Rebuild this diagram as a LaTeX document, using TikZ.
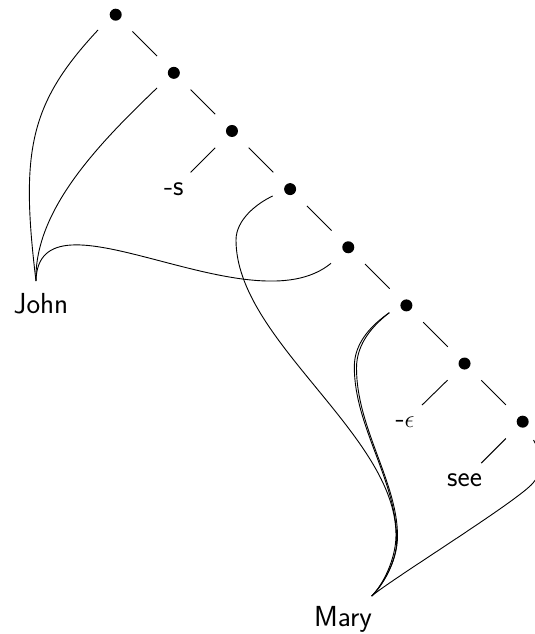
\documentclass[tikz,border=0pt]{standalone}
\usepackage{fontspec}
\begin{document}
\begin{tikzpicture}[x=1pt,y=-1pt,line width=0.9pt,
  dot/.style={circle,fill=black,inner sep=0pt,minimum size=12pt},
  lbl/.style={font=\sffamily\fontsize{29}{33}\selectfont,inner sep=0pt},
  branch/.style={shorten <=23.7pt,shorten >=23.7pt},
  link/.style={line width=0.9pt}]
\useasboundingbox (0,0) rectangle (535,634);
\clip (0,0) rectangle (535,634);
% tree nodes
\node[dot] (d1) at (115.7,14.7) {};
\node[dot] (d2) at (173.84,72.84) {};
\node[dot] (d3) at (231.98,130.98) {};
\node[dot] (d4) at (290.12,189.12) {};
\node[dot] (d5) at (348.26,247.26) {};
\node[dot] (d6) at (406.4,305.4) {};
\node[dot] (d7) at (464.54,363.54) {};
\node[dot] (d8) at (522.68,421.68) {};
\node[lbl] (s) at (173.84,189.12) {-s};
\node[lbl] (eps) at (405,421.68) {-$\epsilon$};
\node[lbl] (see) at (464.54,479.82) {see};
\node[lbl,anchor=base] (john) at (41,313) {John};
\node[lbl,anchor=base] (mary) at (343,626) {Mary};
% tree branches
\draw[branch] (d1.center) -- (d2.center);
\draw[branch] (d2.center) -- (d3.center);
\draw[branch] (d3.center) -- (s.center);
\draw[branch] (d3.center) -- (d4.center);
\draw[branch] (d4.center) -- (d5.center);
\draw[branch] (d5.center) -- (d6.center);
\draw[branch] (d6.center) -- (d7.center);
\draw[branch] (d7.center) -- (eps.center);
\draw[branch] (d7.center) -- (d8.center);
\draw[branch] (d8.center) -- (see.center);
% attachment points
\coordinate (jtip) at (36,281);
\coordinate (mtip) at (371.7,596);
\coordinate (d1in) at (98,30);
\coordinate (d2in) at (157,88);
\coordinate (d5in) at (331,263.3);
\coordinate (d4in) at (272.7,196);
\coordinate (d6in) at (389.3,312.7);
\coordinate (d8in) at (533.5,440);
% John links
\draw[link] (jtip) .. controls (20,150) and (30,103) .. (d1in);
\draw[link] (jtip) .. controls (34,210) and (99.4,143.2) .. (d2in);
\draw[link] (jtip) .. controls (38,180) and (250,330) .. (d5in);
% Mary links
\draw[link] (mtip) .. controls (382,586) and (396,560) .. (396,535)
  .. controls (396,435) and (236,340) .. (236,240)
  .. controls (236,220) and (256.4,203.6) .. (d4in);
\draw[link] (mtip) .. controls (382,586) and (396.7,562) .. (396.7,540)
  .. controls (396.7,480) and (354.3,426.7) .. (354.3,366.7)
  .. controls (354.3,341.7) and (372.9,324.2) .. (d6in);
\draw[link] (mtip) .. controls (382,586) and (397.5,562) .. (397.5,536)
  .. controls (397.5,482) and (356.5,428) .. (356.5,368)
  .. controls (356.5,343) and (373.5,325) .. (d6in);
\draw[link] (mtip) .. controls (391.7,579) and (518,501) .. (533,483)
  .. controls (548,465) and (540,452) .. (d8in);
\end{tikzpicture}
\end{document}
